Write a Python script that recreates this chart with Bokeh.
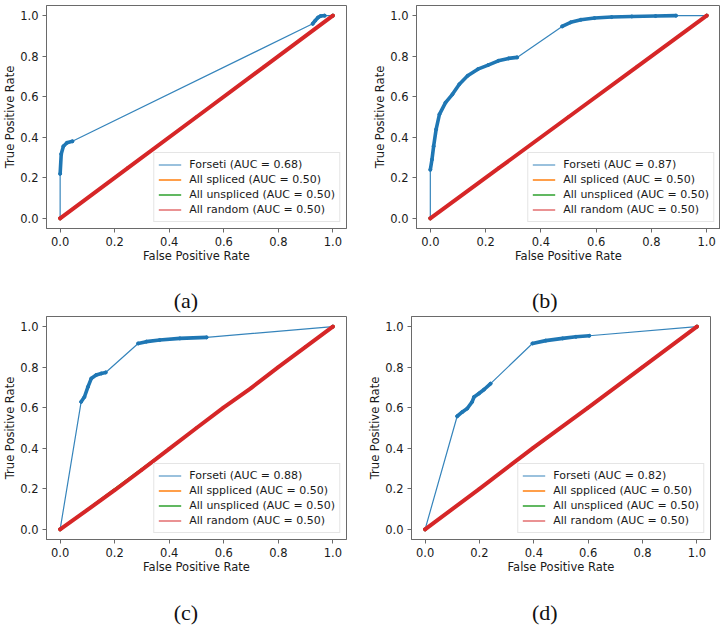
from bokeh.plotting import figure
from bokeh.layouts import column, row
from bokeh.models import (Label, Legend, LegendItem, FixedTicker,
                          NumeralTickFormatter, Range1d)
from bokeh.embed import file_html
from bokeh.resources import INLINE

# ---------------- data ----------------
TICKS = [0.0, 0.2, 0.4, 0.6, 0.8, 1.0]
CAPTIONS = ["(a)", "(b)", "(c)", "(d)"]
AUC_FORSETI = [0.68, 0.87, 0.88, 0.82]
AUC_BASELINE = [0.50, 0.50, 0.50, 0.50]
SPLICED_NAMES = ["All spliced", "All spliced", "All sppliced", "All sppliced"]
UNSPLICED_NAME = "All unspliced"
RANDOM_NAME = "All random"
FORSETI_NAME = "Forseti"

# panel (a)
A_FPR = [0.0, 0.0, 0.004, 0.012, 0.025, 0.045, 0.926, 0.935, 0.945, 0.955, 0.97, 1.0]
A_TPR = [0.0, 0.22, 0.317, 0.356, 0.373, 0.38, 0.96, 0.975, 0.99, 0.998, 1.0, 1.0]
A_DENSE = [(1, 5), (6, 10)]
A_RAND_FPR = [0.0, 0.25, 0.5, 0.75, 1.0]
A_RAND_TPR = [0.0, 0.25, 0.5, 0.75, 1.0]

# panel (b)
B_FPR = [0.0, 0.0, 0.006, 0.012, 0.021, 0.033, 0.055, 0.080, 0.105, 0.135, 0.172,
         0.209, 0.246, 0.283, 0.314, 0.477, 0.508, 0.545, 0.594, 0.656, 0.729,
         0.815, 0.889, 1.0]
B_TPR = [0.0, 0.24, 0.29, 0.356, 0.439, 0.513, 0.571, 0.612, 0.662, 0.703, 0.736,
         0.756, 0.777, 0.789, 0.794, 0.947, 0.967, 0.980, 0.988, 0.993, 0.996,
         0.998, 1.0, 1.0]
B_DENSE = [(1, 14), (15, 22)]
B_RAND_FPR = [0.0, 0.25, 0.5, 0.75, 1.0]
B_RAND_TPR = [0.0, 0.25, 0.5, 0.75, 1.0]

# panel (c)
C_FPR = [0.0, 0.077, 0.089, 0.102, 0.114, 0.132, 0.151, 0.167, 0.286, 0.316,
         0.365, 0.439, 0.537, 1.0]
C_TPR = [0.0, 0.629, 0.653, 0.703, 0.744, 0.761, 0.769, 0.774, 0.917, 0.926,
         0.934, 0.942, 0.947, 1.0]
C_DENSE = [(1, 7), (8, 12)]
C_RAND_FPR = [0.0, 0.1, 0.2, 0.3, 0.4, 0.5, 0.6, 0.7, 0.8, 0.9, 1.0]
C_RAND_TPR = [0.0, 0.096, 0.193, 0.294, 0.397, 0.5, 0.602, 0.697, 0.8, 0.9, 1.0]

# panel (d)
D_FPR = [0.0, 0.118, 0.137, 0.155, 0.173, 0.180, 0.198, 0.217, 0.241, 0.395,
         0.444, 0.506, 0.555, 0.604, 1.0]
D_TPR = [0.0, 0.558, 0.579, 0.596, 0.629, 0.653, 0.670, 0.690, 0.719, 0.917,
         0.931, 0.942, 0.950, 0.955, 1.0]
D_DENSE = [(1, 8), (9, 13)]
D_RAND_FPR = [0.0, 0.2, 0.4, 0.6, 0.8, 1.0]
D_RAND_TPR = [0.0, 0.2, 0.404, 0.6, 0.8, 1.0]

# constant baselines
CONST_FPR = [0.0, 1.0]
CONST_TPR = [0.0, 1.0]

BLUE, ORANGE, GREEN, RED = "#1f77b4", "#ff7f0e", "#2ca02c", "#d62728"
FRAME = "#6a6a6a"
TXT = "#1a1a1a"
FS = "11.5px"
LEG_FS = "11px"


def make_panel(i, fpr, tpr, dense, rfpr, rtpr, fw, left, right, top):
    p = figure(frame_width=fw, frame_height=223,
               min_border_left=left, min_border_right=right,
               min_border_top=top, min_border_bottom=40,
               x_range=Range1d(-0.05, 1.05), y_range=Range1d(-0.05, 1.05),
               output_backend="svg", toolbar_location=None, tools="")
    p.grid.visible = False
    p.outline_line_color = FRAME
    p.outline_line_width = 1
    p.background_fill_color = "white"
    p.border_fill_color = "white"

    for ax in (p.xaxis[0], p.yaxis[0]):
        ax.ticker = FixedTicker(ticks=TICKS)
        ax.formatter = NumeralTickFormatter(format="0.0")
        ax.axis_line_color = FRAME
        ax.major_tick_line_color = FRAME
        ax.major_tick_out = 4
        ax.major_tick_in = 0
        ax.minor_tick_line_color = None
        ax.major_label_text_font = "DejaVu Sans"
        ax.major_label_text_font_size = FS
        ax.major_label_text_color = TXT
        ax.major_label_standoff = 4
        ax.axis_label_text_font = "DejaVu Sans"
        ax.axis_label_text_font_size = FS
        ax.axis_label_text_font_style = "normal"
        ax.axis_label_text_color = TXT
        ax.axis_label_standoff = 0
    p.xaxis.axis_label = "False Positive Rate"
    p.yaxis.axis_label = "True Positive Rate"

    # Forseti curve: thin connecting line, dense (thick) stretches, point markers
    f_line = p.line(fpr, tpr, line_color=BLUE, line_width=1.2, line_alpha=0.9)
    xs = [fpr[a:b + 1] for a, b in dense]
    ys = [tpr[a:b + 1] for a, b in dense]
    p.multi_line(xs, ys, line_color=BLUE, line_width=3.6, line_cap="round",
                 line_join="round")
    p.scatter(fpr, tpr, size=3, marker="circle", color=BLUE)

    s_line = p.line(CONST_FPR, CONST_TPR, line_color=ORANGE, line_width=1.5)
    p.scatter(CONST_FPR, CONST_TPR, size=4, marker="x", color=ORANGE)
    u_line = p.line(CONST_FPR, CONST_TPR, line_color=GREEN, line_width=1.5)
    p.scatter(CONST_FPR, CONST_TPR, size=4, marker="cross", color=GREEN)

    p.line(rfpr, rtpr, line_color=RED, line_width=4, line_cap="round")
    r_line = p.line(rfpr, rtpr, line_color=RED, line_width=1.2)
    p.scatter(rfpr, rtpr, size=3, marker="inverted_triangle", color=RED)

    items = [
        LegendItem(label=f"{FORSETI_NAME} (AUC = {AUC_FORSETI[i]:.2f})",
                   renderers=[f_line]),
        LegendItem(label=f"{SPLICED_NAMES[i]} (AUC = {AUC_BASELINE[i]:.2f})",
                   renderers=[s_line]),
        LegendItem(label=f"{UNSPLICED_NAME} (AUC = {AUC_BASELINE[i]:.2f})",
                   renderers=[u_line]),
        LegendItem(label=f"{RANDOM_NAME} (AUC = {AUC_BASELINE[i]:.2f})",
                   renderers=[r_line]),
    ]
    leg = Legend(items=items, location="bottom_right",
                 label_text_font="DejaVu Sans", label_text_font_size=LEG_FS,
                 label_text_color=TXT, label_height=15, glyph_height=15,
                 glyph_width=23, label_standoff=8, spacing=0, padding=4,
                 margin=6, border_line_color="#cccccc",
                 background_fill_alpha=0.85)
    p.add_layout(leg, "center")
    return p


def make_caption(i, total_width, y_frac):
    c = figure(frame_width=total_width, frame_height=46,
               min_border_left=0, min_border_right=0,
               min_border_top=0, min_border_bottom=0,
               x_range=Range1d(0, 1), y_range=Range1d(0, 1),
               output_backend="svg", toolbar_location=None, tools="")
    c.axis.visible = False
    c.grid.visible = False
    c.outline_line_color = None
    c.add_layout(Label(x=0.515, y=y_frac, text=CAPTIONS[i],
                       text_align="center", text_baseline="middle",
                       text_font="Liberation Serif", text_font_size="22px",
                       text_color="#111111"))
    return c


pa = make_panel(0, A_FPR, A_TPR, A_DENSE, A_RAND_FPR, A_RAND_TPR, 300, 44, 16, 5)
pb = make_panel(1, B_FPR, B_TPR, B_DENSE, B_RAND_FPR, B_RAND_TPR, 304, 54, 0, 5)
pc = make_panel(2, C_FPR, C_TPR, C_DENSE, C_RAND_FPR, C_RAND_TPR, 300, 44, 16, 2)
pd = make_panel(3, D_FPR, D_TPR, D_DENSE, D_RAND_FPR, D_RAND_TPR, 299, 49, 10, 2)

ca = make_caption(0, 360, 0.30)
cb = make_caption(1, 358, 0.30)
cc = make_caption(2, 360, 0.28)
cd = make_caption(3, 358, 0.28)

layout = column(row(pa, pb), row(ca, cb), row(pc, pd), row(cc, cd))

with open("out.html", "w") as f:
    f.write(file_html(layout, INLINE))
